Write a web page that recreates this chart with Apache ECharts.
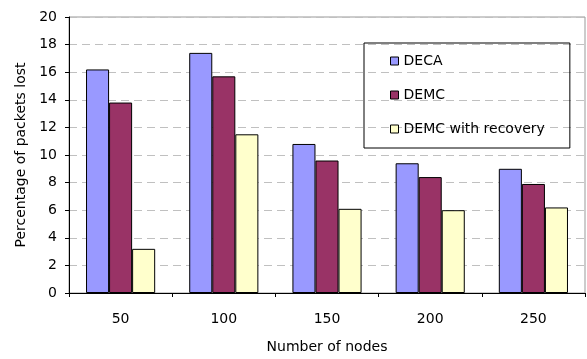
<!DOCTYPE html>
<html>
<head>
<meta charset="utf-8">
<script src="https://cdn.jsdelivr.net/npm/echarts@6/dist/echarts.min.js"></script>
<style>html,body{margin:0;padding:0;background:#fff;}#c{width:587px;height:359px;}</style>
</head>
<body>
<div id="c"></div>
<script>
const categories = ['50', '100', '150', '200', '250'];
const seriesNames = ['DECA', 'DEMC', 'DEMC with recovery'];
const deca = [16.2, 17.4, 10.8, 9.4, 9.0];
const demc = [13.8, 15.7, 9.6, 8.4, 7.9];
const demcRecovery = [3.2, 11.5, 6.1, 6.0, 6.2];
const xTitle = 'Number of nodes';
const yTitle = 'Percentage of packets lost';

const FONT = 'DejaVu Sans';
const colors = ['#9999FF', '#993366', '#FFFFCC'];
const values = [deca, demc, demcRecovery];

const chart = echarts.init(document.getElementById('c'), null, {renderer: 'canvas'});
chart.setOption({
  animation: false,
  backgroundColor: '#fff',
  textStyle: {fontFamily: FONT},
  grid: {left: 69, right: 2, top: 17, bottom: 65, show: true, borderColor: '#999', borderWidth: 1, backgroundColor: 'transparent'},
  legend: {
    orient: 'vertical', left: 364, top: 43,
    padding: [11, 25, 12, 26],
    borderColor: '#000', borderWidth: 1,
    itemWidth: 8, itemHeight: 8, itemGap: 20,
    icon: 'rect',
    itemStyle: {borderColor: '#000', borderWidth: 1},
    textStyle: {fontFamily: FONT, fontSize: 14, color: '#000'},
    data: seriesNames
  },
  xAxis: {
    type: 'category', data: categories, boundaryGap: true,
    name: xTitle, nameLocation: 'middle', nameGap: 47,
    nameTextStyle: {fontFamily: FONT, fontSize: 14, color: '#000'},
    axisLine: {lineStyle: {color: '#000', width: 1}},
    axisTick: {show: true, length: 4, interval: 0, lineStyle: {color: '#000'}},
    axisLabel: {fontFamily: FONT, fontSize: 14, color: '#000', margin: 19},
    splitLine: {show: false}
  },
  yAxis: {
    type: 'value', min: 0, max: 20, interval: 2,
    name: yTitle, nameLocation: 'middle', nameGap: 33, nameRotate: 90,
    nameTextStyle: {fontFamily: FONT, fontSize: 14, color: '#000'},
    axisLine: {show: true, lineStyle: {color: '#000', width: 1}},
    axisTick: {show: true, length: 4, lineStyle: {color: '#000'}},
    axisLabel: {fontFamily: FONT, fontSize: 14, color: '#000', margin: 12},
    splitLine: {show: true, lineStyle: {color: '#c0c0c0', type: [8, 5], width: 1}}
  },
  series: seriesNames.map((n, i) => ({
    name: n, type: 'bar', data: values[i],
    barGap: '0%', barCategoryGap: '33%',
    itemStyle: {color: colors[i], borderColor: '#000', borderWidth: 1}
  }))
});
</script>
</body>
</html>
